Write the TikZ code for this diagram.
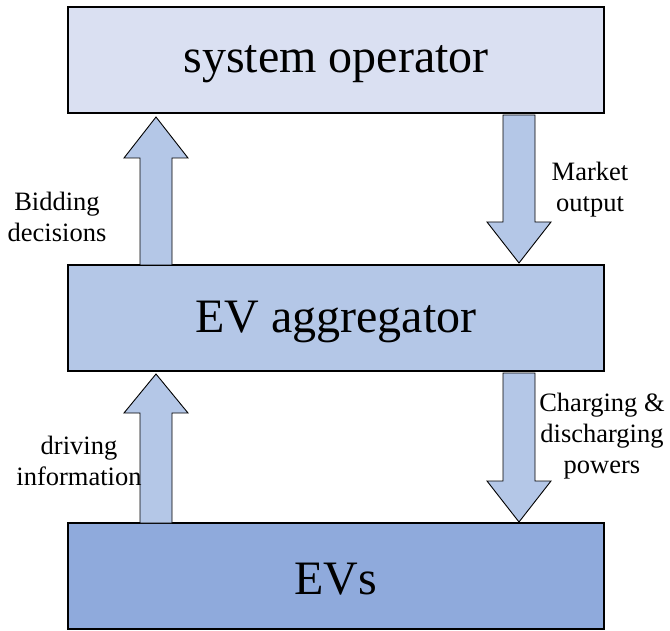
\documentclass[tikz,border=0pt]{standalone}
\usepackage{fontspec}
\setmainfont{Liberation Serif}
\definecolor{boxA}{HTML}{DAE0F2}
\definecolor{boxB}{HTML}{B4C7E7}
\definecolor{boxC}{HTML}{8FAADC}
\definecolor{arr}{HTML}{B4C7E7}
\begin{document}
\begin{tikzpicture}[x=1pt,y=-1pt,
  layer/.style={draw=black,line width=2.5pt,minimum width=536pt,minimum height=106pt,inner sep=0pt},
  big/.style={inner sep=0pt,font=\fontsize{48}{54}\selectfont},
  fat/.style={draw=black,line width=0.9pt,fill=arr,line join=miter},
  lab/.style={align=center,font=\fontsize{26.5}{31}\selectfont,inner sep=0pt}]
\useasboundingbox (0,0) rectangle (670,631);
\node[layer,fill=boxA] (so) at (336,60) {};
\node[layer,fill=boxB] (ag) at (336,318) {};
\node[layer,fill=boxC] (ev) at (336,576) {};
\node[big] (tso) at ([yshift=-4pt]so.center) {system operator};
\node[big] (tag) at ([yshift=-4pt]ag.center) {EV aggregator};
\node[big] (tev) at ([yshift=-3pt]ev.center) {EVs};
% up arrow: aggregator -> operator
\draw[fat] (140,265) -- (140,158) -- (124,158) -- (156,117) -- (188,158) -- (172,158) -- (172,265) -- cycle;
% down arrow: operator -> aggregator
\draw[fat] (503,115) -- (535,115) -- (535,222) -- (551,222) -- (519,263) -- (487,222) -- (503,222) -- cycle;
% up arrow: EVs -> aggregator
\draw[fat] (140,523) -- (140,413) -- (124,413) -- (156,374) -- (188,413) -- (172,413) -- (172,523) -- cycle;
% down arrow: aggregator -> EVs
\draw[fat] (503,373) -- (535,373) -- (535,481) -- (551,481) -- (519,522) -- (487,481) -- (503,481) -- cycle;
\node[lab] (l1) at (57,217) {Bidding\\decisions};
\node[lab] (l2) at (590,190) {Market\\output};
\node[lab] (l3) at (79,461) {driving\\information};
\node[lab] (l4) at (602,436) {Charging \&\\discharging\\powers};
\end{tikzpicture}
\end{document}
